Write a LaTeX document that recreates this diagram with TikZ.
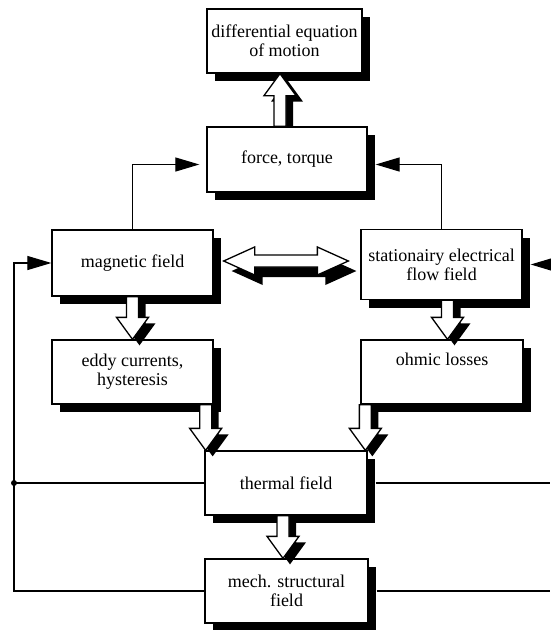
\documentclass[tikz,border=0pt]{standalone}
\usepackage{fontspec}
\setmainfont{Liberation Serif}
\usetikzlibrary{calc,shadows,arrows.meta}

\tikzset{
  fieldbox/.style={draw, fill=white, line width=1.3pt, align=center,
    font=\fontsize{18}{19}\selectfont, inner sep=2pt,
    drop shadow={shadow xshift=8pt, shadow yshift=-8pt, fill=black, opacity=1}},
  fatwhite/.style={draw, fill=white, line width=1.3pt, line join=miter},
  fatblack/.style={fill=black},
  link/.style={line width=1.2pt, -{Triangle[length=24pt,width=14pt]}},
  plain/.style={line width=1.2pt}
}

% vertical block arrow: #1 start, #2 tip, #3 head base (+22pt down, -22pt up)
\newcommand\fatvert[3]{%
  \fill[fatblack] let \p1=#1, \p2=#2 in
    (\x1+1pt,\y1) -- (\x1+1pt,\y2#3-6pt) -- (\x1-9pt,\y2#3-6pt) -- (\x1+7pt,\y2-6pt)
    -- (\x1+23pt,\y2#3-6pt) -- (\x1+13pt,\y2#3-6pt) -- (\x1+13pt,\y1) -- cycle;
  \draw[fatwhite] let \p1=#1, \p2=#2 in
    (\x1-6pt,\y1) -- (\x1-6pt,\y2#3) -- (\x1-16pt,\y2#3) -- (\x1,\y2)
    -- (\x1+16pt,\y2#3) -- (\x1+6pt,\y2#3) -- (\x1+6pt,\y1) -- cycle;}

% horizontal double block arrow: #1 left tip, #2 right tip
\newcommand\fathoriz[2]{%
  \foreach \dx/\dy/\sty in {8pt/10pt/fatblack, 0pt/0pt/fatwhite}{
    \path[\sty] let \p1=#1, \p2=#2 in
      (\x1+\dx,\y1-\dy) -- (\x1+31pt+\dx,\y1+14pt-\dy) -- (\x1+31pt+\dx,\y1+6pt-\dy)
      -- (\x2-31pt+\dx,\y1+6pt-\dy) -- (\x2-31pt+\dx,\y1+14pt-\dy) -- (\x2+\dx,\y1-\dy)
      -- (\x2-31pt+\dx,\y1-14pt-\dy) -- (\x2-31pt+\dx,\y1-6pt-\dy) -- (\x1+31pt+\dx,\y1-6pt-\dy)
      -- (\x1+31pt+\dx,\y1-14pt-\dy) -- cycle;}}

\begin{document}
\begin{tikzpicture}[x=1pt,y=-1pt]
  \useasboundingbox[fill=white] (0,0) rectangle (550,630);

  % boxes
  \node[fieldbox, minimum width=155, minimum height=64] (motion) at (284.5,41) {differential equation\\of motion};
  \node[fieldbox, minimum width=160, minimum height=65] (force) at (287,159.5) {force, torque};
  \node[fieldbox, minimum width=161, minimum height=66] (magnetic) at (132.5,263) {magnetic field};
  \node[fieldbox, minimum width=161, minimum height=70] (stationary) at (441.5,264.5) {stationairy electrical\\flow field};
  \node[fieldbox, minimum width=161, minimum height=64] (eddy) at (132.5,372) {eddy currents,\\hysteresis};
  \node[fieldbox, minimum width=162, minimum height=64, text depth=26pt] (ohmic) at (442,372) {ohmic losses};
  \node[fieldbox, minimum width=162, minimum height=64] (thermal) at (286,483) {thermal field};
  \node[fieldbox, minimum width=163, minimum height=64] (mech) at (286.5,591) {mech. structural\\field};

  \coordinate (leftbus) at (14,483);
  \coordinate (edge) at (550,0);

  % block arrows
  \fatvert{($(force.north)+(-7,0)$)}{(motion.south)}{-22pt}
  \fathoriz{($(magnetic.east)+(10,-2)$)}{($(stationary.west)+(-12,0)$)}
  \fatvert{(magnetic.south)}{(eddy.north)}{+22pt}
  \fatvert{($(stationary.south)+(6,0)$)}{(ohmic.north)}{+22pt}
  \fatvert{($(eddy.south east)+(-8,0)$)}{(thermal.north west)}{+22pt}
  \fatvert{($(ohmic.south west)+(5,0)$)}{(thermal.north east)}{+22pt}
  \fatvert{($(thermal.south)+(-3,0)$)}{(mech.north)}{+22pt}

  % connectors
  \draw[link, shorten >=7pt] (magnetic.north) |- ($(force.west)+(0,5)$);
  \draw[link] (stationary.north) |- ($(force.east)+(8,5)$);
  \draw[link] (mech.west) -| (leftbus) |- (magnetic.west);
  \draw[plain] (thermal.west) -- (leftbus);
  \fill (leftbus) circle (3);
  \draw[plain] ($(thermal.east)+(8,0)$) -- (thermal.east -| edge);
  \draw[plain] ($(mech.east)+(8,0)$) -- (mech.east -| edge);
  \draw[link] (stationary.east -| edge) -- ($(stationary.east)+(8,0)$);
\end{tikzpicture}
\end{document}
